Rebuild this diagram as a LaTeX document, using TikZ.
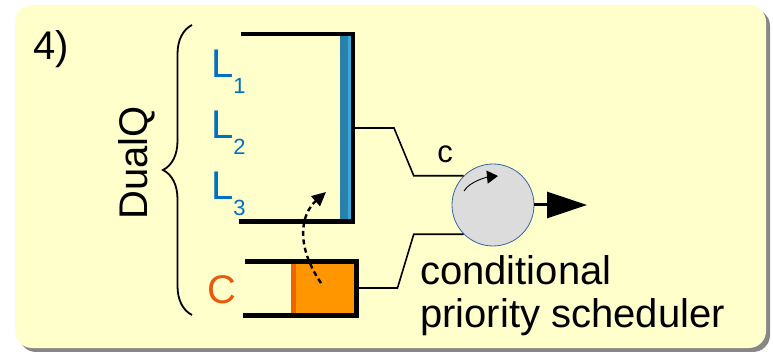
\documentclass[tikz,border=0pt]{standalone}
\usepackage{fontspec}
\setmainfont{Liberation Sans}
\usetikzlibrary{arrows.meta,decorations.pathreplacing,positioning,calc}
\definecolor{panelyellow}{RGB}{255,255,204}
\definecolor{shadowgray}{RGB}{135,135,135}
\definecolor{qblue}{RGB}{0,112,192}
\definecolor{stripdark}{RGB}{41,128,168}
\definecolor{striplight}{RGB}{51,170,221}
\definecolor{corange}{RGB}{235,90,10}
\definecolor{cfill}{RGB}{255,150,0}
\definecolor{cstrip}{RGB}{240,100,0}
\definecolor{schedgray}{RGB}{220,220,220}
\definecolor{schedblue}{RGB}{52,101,164}

\newcommand{\bigfont}{\fontsize{40}{43}\selectfont}
\newcommand{\lsub}[1]{L\raisebox{-16pt}{\fontsize{22}{22}\selectfont #1}}

\begin{document}
\begin{tikzpicture}[x=1pt, y=-1pt,
    lbl/.style={inner sep=0pt, font=\bigfont},
    qlabel/.style={lbl, text=qblue, anchor=base west},
    qwall/.style={line width=4.5pt, line join=miter},
    wire/.style={line width=1.6pt},
    sched/.style={circle, draw=schedblue, fill=schedgray, line width=0.8pt, minimum size=82pt, inner sep=0pt},
    outarrow/.style={line width=3pt, -{Triangle[length=40pt,width=26pt]}}
  ]
  \useasboundingbox (0,0) rectangle (773,352);
  % panel with shadow
  \fill[shadowgray, rounded corners=17pt] (19,9) rectangle (770,352);
  \fill[panelyellow, rounded corners=17pt] (15,5) rectangle (766,348);

  \node[lbl, anchor=base west] (num) at (33,60) {4)};

  % DualQ brace
  \draw[line width=1.8pt, decorate, decoration={brace, amplitude=29pt}] (192,315) -- (192,25);
  \node[lbl, rotate=90, anchor=base] (dualq) at (147,163) {DualQ};

  % L queue
  \fill[stripdark] (340,36) rectangle (348,220);
  \fill[striplight] (348,36) rectangle (351,220);
  \draw[qwall] (241,34) -- (353,34) -- (353,221.5) -- (239,221.5);
  \coordinate (lout) at (353,128);
  \coordinate (lhead) at (326,192);

  \node[qlabel] (l1) at (211,78) {\lsub{1}};
  \node[qlabel] (l2) at (211,139) {\lsub{2}};
  \node[qlabel] (l3) at (211,200) {\lsub{3}};

  % C queue
  \fill[cfill] (291,262) rectangle (356,315);
  \fill[cstrip] (291,262) rectangle (296,315);
  \draw[qwall] (245,261.5) -- (356.5,261.5) -- (356.5,315.5) -- (243,315.5);
  \coordinate (cout) at (356.5,288);
  \coordinate (ctail) at (321,283);
  \node[lbl, text=corange, anchor=base west] (clbl) at (207,304) {C};

  % scheduler
  \node[sched] (cps) at (493,205) {};
  \draw[wire] (lout) -- ++(41,0) -- ([xshift=-50pt]cps.135) -- (cps.135);
  \draw[wire] (cout) -- ++(41,0) -- ([xshift=-50pt]cps.225) -- (cps.225);
  \node[lbl, font=\fontsize{31}{31}\selectfont, anchor=base] (clabel) at (445,163) {c};

  \coordinate (outend) at (587,205);
  \draw[outarrow] (cps.east) -- (outend);

  % rotation mark
  \draw[line width=0.9pt, -{Triangle[length=11pt,width=13pt]}] ([shift={(-29,-14)}]cps.center) .. controls +(6,-10) and +(-10,1) .. ([shift={(5,-29)}]cps.center);

  % dashed move from C to L
  \draw[line width=2.4pt, dash pattern=on 5pt off 3.5pt, -{Triangle[length=14pt,width=13pt]}] (ctail) .. controls +(-26,-38) and +(-25,22) .. (lhead);

  \node[lbl, align=left, anchor=north west] (cpslabel) at (420,255) {conditional\\priority scheduler};
\end{tikzpicture}
\end{document}
